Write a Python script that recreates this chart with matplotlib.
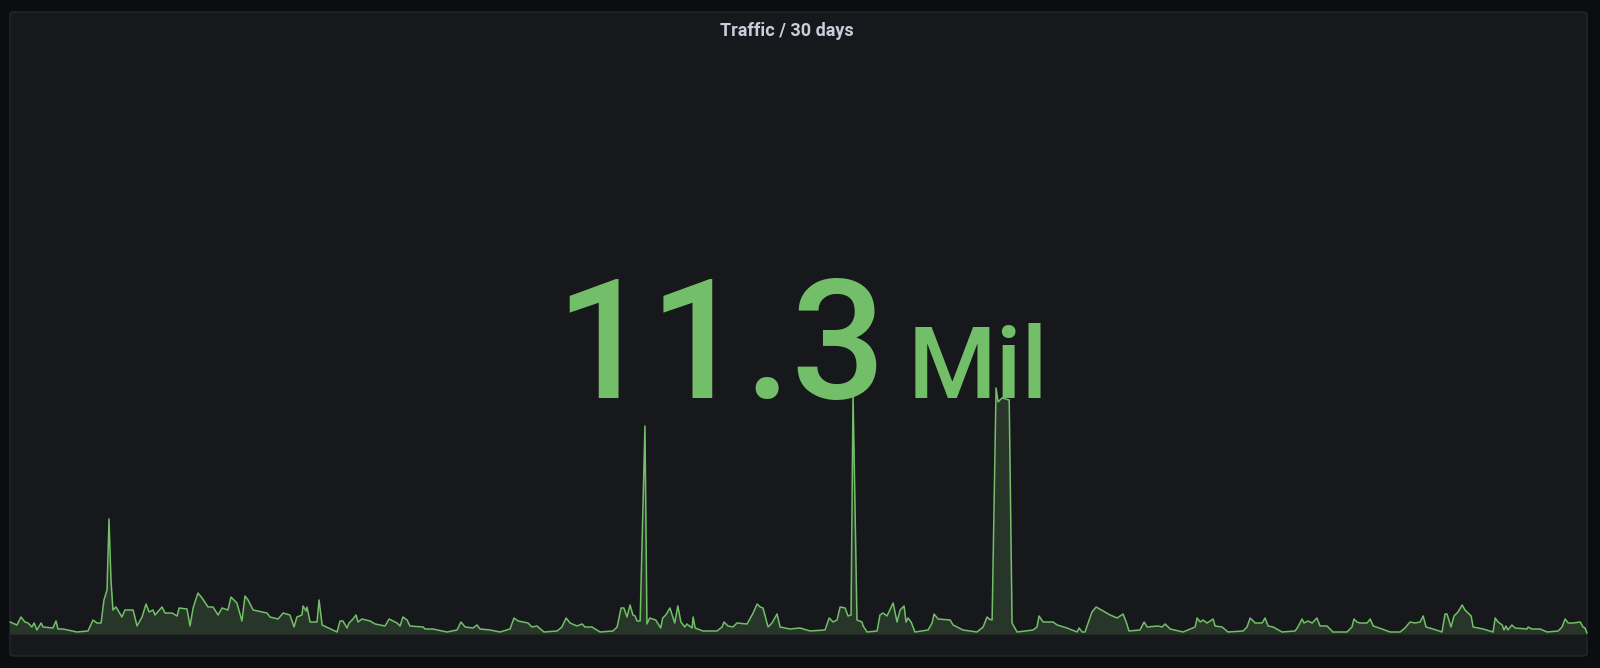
import matplotlib
matplotlib.use("Agg")
import matplotlib.pyplot as plt
from matplotlib.patches import FancyBboxPatch

# ---- data (hourly traffic over 30 days, thousands of requests / hour) ----
hours = [
    0.0, 3.2, 5.0, 6.8, 8.2, 10.0, 11.0, 12.3, 14.2, 15.1, 19.6, 21.0, 21.9, 24.2, 30.6, 35.6,
    37.9, 39.7, 41.6, 42.9, 44.3, 45.2, 46.1, 47.0, 48.4, 51.1, 52.5, 56.2, 58.0, 60.3, 62.1,
    63.5, 65.3, 66.2, 69.4, 70.8, 74.0, 76.3, 77.2, 80.8, 82.2, 83.6, 85.8, 87.7, 90.4, 92.7,
    95.0, 96.8, 99.5, 100.9, 103.6, 105.9, 107.3, 108.7, 111.0, 117.3, 118.7, 122.4, 124.7,
    127.8, 129.7, 131.0, 133.3, 133.8, 135.2, 135.6, 137.0, 140.2, 141.1, 142.5, 149.3, 150.7,
    152.0, 153.9, 154.8, 156.6, 158.0, 158.9, 160.7, 164.4, 166.7, 171.2, 173.1, 176.7, 178.1,
    179.4, 181.3, 182.6, 188.6, 189.5, 193.1, 199.5, 204.1, 205.9, 207.8, 211.4, 213.2, 214.6,
    219.2, 223.7, 228.3, 230.1, 232.0, 236.5, 238.3, 240.6, 243.8, 249.8, 252.0, 253.9, 255.7,
    258.9, 261.2, 262.5, 265.7, 269.4, 275.3, 277.2, 279.0, 280.3, 281.7, 283.1, 284.4, 285.4,
    286.3, 287.7, 289.9, 290.8, 292.1, 294.8, 297.1, 298.0, 299.4, 301.3, 302.6, 303.5, 304.9,
    306.3, 308.1, 309.0, 311.4, 311.9, 312.8, 316.4, 322.8, 325.1, 326.0, 327.8, 330.1, 331.9,
    336.5, 339.3, 341.1, 342.5, 343.8, 346.1, 347.9, 350.2, 351.6, 356.1, 360.7,
    365.3, 372.1, 374.0, 375.8, 377.6, 379.0, 381.3, 382.6, 384.0, 384.9, 386.7, 389.0, 389.5,
    391.3, 395.9, 397.2, 398.6, 400.4, 403.2, 405.0, 406.4, 408.2, 409.1, 410.0, 411.4, 413.2,
    419.2, 421.0, 421.9, 423.7, 429.2, 430.6, 435.1, 441.5, 444.3, 446.1, 447.0, 448.4, 450.2,
    451.1, 452.9, 456.2, 457.5, 459.8, 467.1, 468.9, 469.8, 471.7, 476.2, 478.1, 482.6, 487.2,
    488.1, 489.5, 490.8, 494.0, 495.9, 502.3, 505.5, 508.2, 509.6, 510.9, 515.9, 517.8, 519.2,
    524.2, 526.0, 527.4, 529.7, 535.6, 541.1, 542.0, 543.4,
    544.7, 546.5, 549.3, 550.2, 553.4, 556.1, 563.0, 564.8, 566.2, 568.5, 571.7, 573.0, 574.4,
    576.7, 580.8, 586.7, 588.0, 589.9, 590.8, 592.6, 594.5, 596.7, 598.1, 601.3, 604.0, 610.4,
    612.7, 613.6, 615.0, 616.4, 619.6, 621.0, 622.4, 626.4, 630.1, 634.7, 636.9, 639.2, 641.5,
    643.8, 645.2, 646.5, 649.7, 653.8, 655.2, 656.1, 657.9, 659.3, 661.1, 663.0, 664.3, 667.1,
    668.0, 672.6, 677.1, 678.1, 679.4, 681.3, 682.1, 683.0, 683.9, 685.7, 687.2, 692.6, 693.1,
    694.9, 698.6, 701.8, 706.8, 708.6, 710.0, 711.4, 713.7, 716.9, 718.2, 719.1, 720.0,
]
traffic_k = [
    12, 9, 17, 12, 11, 7, 11, 4, 11, 7, 6, 13, 5, 5, 2, 3,
    14, 11, 11, 34, 44, 115, 54, 24, 27, 17, 24, 24, 8, 17, 30,
    22, 24, 19, 27, 21, 21, 18, 26, 25, 8, 26, 41, 36, 27, 27,
    19, 26, 24, 37, 31, 13, 38, 34, 24, 21, 17, 15, 21,
    19, 7, 17, 19, 28, 23, 27, 12, 12, 34, 9, 2, 13,
    13, 6, 11, 15, 19, 12, 15, 13, 10, 8, 15, 11, 8,
    17, 14, 8, 7, 5, 5, 2, 4, 12, 7, 6, 9, 5,
    4, 2, 5, 16, 13, 11, 7, 8, 2, 3, 7, 16, 11,
    8, 10, 7, 7, 2, 3, 7, 26, 26, 17, 29, 19, 18,
    13, 13, 208, 10, 16, 14, 6, 16, 19, 26, 17, 11, 28,
    12, 7, 10, 6, 17, 6, 3, 3, 7, 12, 8, 7, 11,
    10, 21, 30, 27, 26, 7, 11, 20, 7, 5, 6,
    3, 4, 16, 12, 14, 27, 26, 18, 19, 240, 14, 12, 8,
    2, 3, 19, 21, 18, 31, 12, 24, 28, 12, 16, 12, 2,
    4, 11, 20, 15, 14, 9, 4, 2, 7, 17, 15, 14, 246,
    232, 236, 234, 11, 2, 4, 7, 18, 12, 12, 9, 6, 2,
    6, 2, 2, 22, 27, 19, 16, 20, 12, 3, 4, 12, 7,
    8, 7, 10, 5, 2, 7, 16, 12,
    14, 11, 15, 8, 7, 2, 3, 7, 16, 11, 11, 16, 8,
    7, 2, 3, 7, 15, 11, 13, 11, 16, 8, 8, 2, 2,
    7, 15, 12, 11, 11, 15, 8, 5, 2, 2, 6, 12, 11,
    12, 18, 7, 5, 2, 20, 20, 7, 18, 22, 29, 24, 18,
    7, 5, 2, 16, 12, 9, 4, 8, 4, 9, 6, 5, 7,
    5, 5, 2, 3, 7, 15, 11, 11, 12, 7, 6, 1,
]
title = "Traffic / 30 days"
stat_value = "11.3"
stat_unit = "Mil"

# ---- style ----
W, H, DPI = 1600, 668, 100
outer_bg = "#0c0d10"
panel_bg = "#17181c"
panel_border = "#25272c"
green = "#73bf69"
title_color = "#ccccdc"
plt.rcParams["font.family"] = ["Roboto", "DejaVu Sans"]

fig = plt.figure(figsize=(W / DPI, H / DPI), dpi=DPI, facecolor=outer_bg)

def fx(px):
    return px / W

def fy(py):
    return 1 - py / H

# panel
px0, py0, px1, py1 = 10, 12, 1587, 656
panel = FancyBboxPatch((fx(px0), fy(py1)), fx(px1 - px0), (py1 - py0) / H,
                       boxstyle="round,pad=0,rounding_size=0.003",
                       transform=fig.transFigure, facecolor=panel_bg,
                       edgecolor=panel_border, linewidth=1.0, zorder=-5)
fig.patches.append(panel)

# title
fig.text(fx(787), fy(31), title, color=title_color, fontsize=13,
         fontweight="bold", ha="center", va="center")

# sparkline axes
base_py, top_py = 634, 388
ax = fig.add_axes([fx(px0), fy(base_py), fx(px1 - px0), (base_py - top_py) / H])
ax.set_zorder(1)
ax.set_xlim(0, 720)
ax.set_ylim(0, 246)
ax.axis("off")
ax.patch.set_alpha(0)
ax.fill_between(hours, traffic_k, 0, color=green, alpha=0.18, linewidth=0, clip_on=False)
ax.plot(hours, traffic_k, color=green, linewidth=1.1, clip_on=False,
        solid_joinstyle="round", solid_capstyle="round")

# big stat value
fig.text(fx(555), fy(398), stat_value, color=green, fontsize=120,
         fontweight="medium", ha="left", va="baseline", zorder=5)
fig.text(fx(908), fy(398), stat_unit, color=green, fontsize=73,
         fontweight="medium", ha="left", va="baseline", zorder=5)

fig.savefig("out.png", dpi=DPI, facecolor=outer_bg)
